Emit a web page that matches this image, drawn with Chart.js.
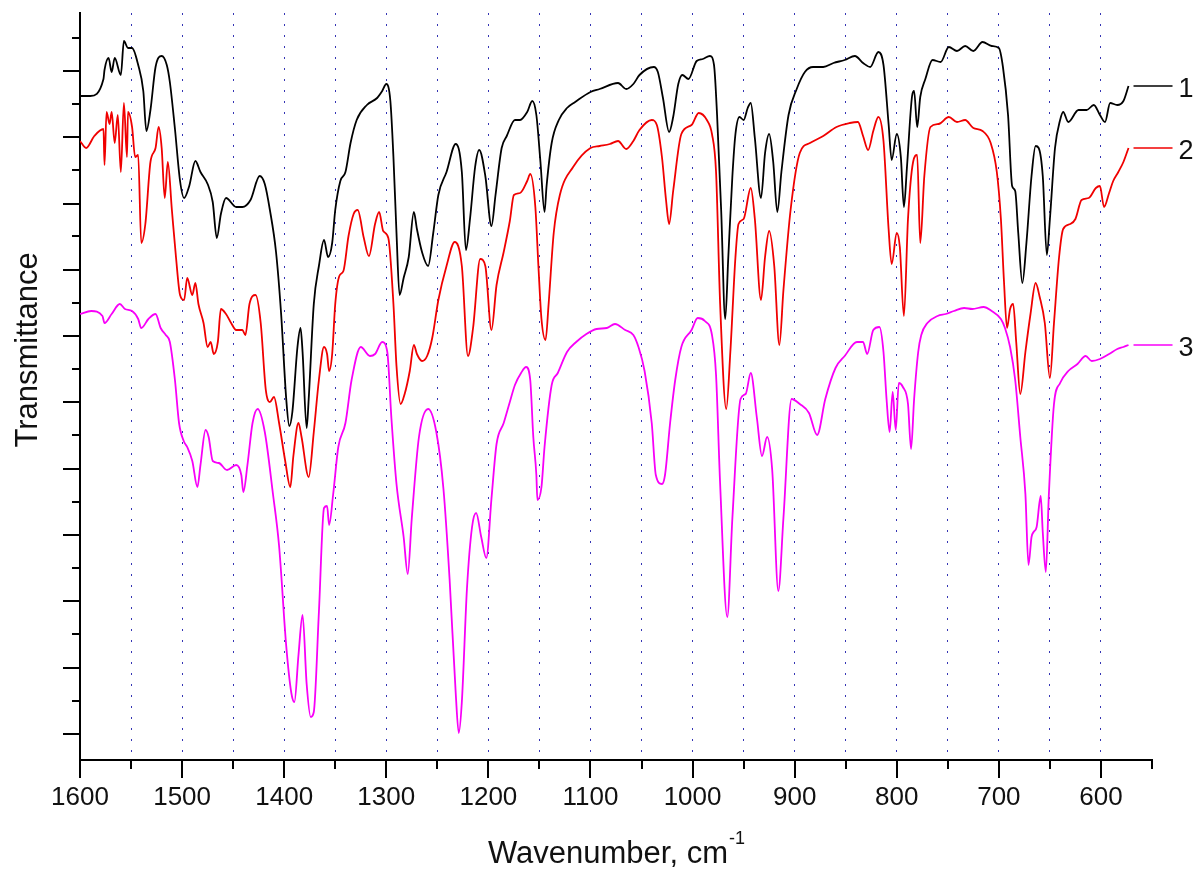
<!DOCTYPE html>
<html>
<head>
<meta charset="utf-8">
<title>IR spectra</title>
<script src="https://cdn.jsdelivr.net/npm/chart.js@4/dist/chart.umd.min.js"></script>
<style>
  html, body { margin: 0; padding: 0; background: #fff; }
  #wrap { width: 1203px; height: 869px; }
</style>
</head>
<body>
<div id="wrap"><canvas id="irChart" width="1203" height="869"></canvas></div>
<script>
// spectrum 1 (black)
const wn1 = [1600, 1590, 1577, 1576, 1572, 1569, 1566, 1560, 1557, 1553, 1549, 1543, 1538, 1535, 1531, 1526, 1520, 1515, 1512, 1507,
  1502, 1498, 1493, 1487, 1482, 1475, 1470, 1466, 1462, 1457, 1447, 1441, 1433, 1424, 1419, 1414, 1408, 1403, 1398, 1395,
  1392, 1387, 1384, 1382, 1378, 1376, 1371, 1366, 1361, 1357, 1353, 1350, 1345, 1340, 1335, 1329, 1319, 1309, 1304, 1300,
  1296, 1293, 1290, 1287, 1283, 1278, 1273, 1270, 1265, 1259, 1254, 1249, 1241, 1232, 1226, 1222, 1218, 1213, 1209, 1203,
  1197, 1193, 1187, 1182, 1174, 1169, 1162, 1157, 1153, 1149, 1145, 1143, 1138, 1131, 1123, 1115, 1100, 1091, 1073, 1065,
  1058, 1052, 1038, 1034, 1029, 1023, 1019, 1014, 1010, 1004, 996, 990, 983, 979, 976, 972, 968, 965, 961, 958,
  954, 950, 946, 943, 939, 933, 929, 925, 921, 917, 913, 906, 898, 890, 882, 872, 862, 851, 841, 833,
  826, 818, 813, 808, 805, 800, 796, 793, 790, 785, 783, 780, 777, 772, 765, 757, 749, 741, 733, 725,
  716, 707, 700, 696, 691, 687, 684, 681, 677, 673, 668, 664, 661, 657, 653, 650, 645, 640, 637, 632,
  622, 614, 607, 601, 596, 591, 584, 578, 573];
const t1 = [66.4, 66.4, 68.1, 69.0, 70.2, 68.8, 70.2, 68.5, 71.9, 71.2, 71.2, 69.5, 66.9, 62.9, 65.0, 69.3, 70.4, 69.5, 67.8, 63.1,
  57.9, 56.2, 57.4, 59.9, 58.8, 57.6, 55.8, 52.2, 54.6, 56.2, 55.3, 55.3, 56.0, 58.4, 57.6, 55.0, 50.8, 44.6, 36.1, 33.4,
  34.8, 41.3, 43.2, 40.8, 33.2, 36.1, 45.6, 49.4, 52.0, 50.3, 51.7, 55.0, 57.9, 58.8, 61.7, 64.0, 65.5, 66.2, 66.9, 67.6,
  65.9, 60.3, 52.7, 46.5, 48.2, 50.3, 54.8, 53.1, 50.8, 49.4, 52.7, 56.5, 58.8, 61.6, 58.8, 51.0, 54.1, 59.3, 61.0, 58.4,
  53.4, 56.5, 61.2, 62.4, 64.0, 64.0, 64.8, 65.9, 64.5, 59.8, 54.8, 57.4, 61.7, 64.0, 65.2, 65.8, 66.8, 67.1, 67.7, 67.1,
  67.6, 68.5, 69.3, 68.8, 66.2, 62.8, 64.3, 67.6, 68.5, 68.1, 69.9, 70.1, 70.4, 69.5, 64.5, 55.0, 44.1, 50.3, 58.4, 62.6,
  64.3, 64.0, 65.2, 65.7, 62.2, 56.2, 60.7, 62.6, 59.8, 54.8, 58.8, 64.5, 67.1, 68.8, 69.3, 69.3, 69.7, 70.0, 70.4, 69.7,
  69.3, 70.8, 69.5, 63.6, 60.0, 62.6, 60.3, 55.3, 59.3, 66.4, 66.9, 63.3, 66.3, 68.1, 70.0, 69.8, 71.3, 70.9, 71.4, 70.9,
  71.8, 71.4, 71.2, 69.3, 64.5, 57.4, 56.9, 52.7, 47.7, 51.7, 58.4, 61.4, 61.2, 58.4, 50.5, 54.1, 61.2, 64.0, 64.8, 63.8,
  65.0, 65.0, 65.5, 64.5, 63.8, 65.7, 65.5, 65.9, 67.4];

// spectrum 2 (red)
const wn2 = [1600, 1594, 1586, 1577, 1576, 1574, 1571, 1569, 1566, 1563, 1560, 1557, 1554, 1553, 1549, 1546, 1543, 1540, 1536, 1531,
  1526, 1523, 1520, 1517, 1514, 1510, 1506, 1502, 1498, 1495, 1490, 1487, 1484, 1479, 1475, 1472, 1469, 1465, 1462, 1457,
  1452, 1447, 1441, 1438, 1434, 1428, 1423, 1418, 1414, 1410, 1405, 1399, 1394, 1391, 1386, 1383, 1376, 1371, 1366, 1361,
  1358, 1356, 1353, 1350, 1346, 1342, 1337, 1332, 1328, 1322, 1317, 1311, 1307, 1303, 1298, 1293, 1290, 1286, 1282, 1277,
  1273, 1270, 1265, 1260, 1255, 1249, 1241, 1233, 1226, 1220, 1215, 1208, 1203, 1197, 1192, 1185, 1179, 1175, 1169, 1162,
  1159, 1154, 1151, 1148, 1144, 1141, 1136, 1130, 1117, 1100, 1091, 1081, 1073, 1065, 1058, 1052, 1040, 1035, 1030, 1026,
  1023, 1019, 1011, 1001, 994, 986, 981, 977, 973, 967, 963, 958, 955, 950, 943, 939, 933, 929, 925, 920,
  915, 911, 904, 895, 885, 872, 859, 846, 838, 833, 828, 823, 818, 813, 808, 805, 800, 797, 793, 789,
  784, 780, 777, 773, 767, 759, 749, 741, 733, 725, 716, 708, 702, 698, 695, 692, 689, 686, 683, 679,
  674, 669, 664, 660, 655, 650, 646, 641, 637, 630, 625, 619, 612, 605, 601, 597, 592, 588, 583, 578, 573];
const t2 = [61.9, 61.2, 62.4, 63.1, 59.5, 64.8, 63.6, 64.8, 61.7, 64.5, 58.8, 65.7, 60.3, 64.8, 63.3, 60.3, 60.5, 51.7, 53.6, 59.8,
  61.2, 63.3, 61.2, 56.2, 59.8, 55.0, 50.3, 46.5, 46.0, 48.2, 46.5, 47.7, 45.6, 43.7, 41.3, 41.8, 40.6, 41.8, 45.1, 44.6,
  43.7, 43.0, 43.0, 42.5, 45.6, 46.5, 43.7, 37.0, 35.8, 36.3, 33.7, 29.9, 27.3, 30.4, 33.7, 32.3, 28.3, 32.8, 38.0, 41.3,
  40.6, 38.9, 40.6, 45.6, 48.4, 48.9, 52.4, 54.6, 55.0, 52.2, 50.4, 53.6, 54.8, 52.9, 52.2, 45.6, 39.4, 35.6, 36.6, 38.9,
  41.5, 40.6, 39.9, 40.4, 42.2, 46.0, 49.4, 51.8, 49.4, 40.4, 43.2, 50.1, 49.4, 43.0, 47.5, 50.8, 53.9, 56.5, 56.7, 57.9,
  58.6, 55.3, 49.4, 44.1, 42.0, 45.6, 52.7, 56.5, 59.3, 61.2, 61.4, 61.6, 61.9, 61.1, 61.9, 63.0, 64.0, 63.5, 60.3, 56.0,
  53.6, 56.9, 62.6, 63.5, 64.7, 64.0, 62.6, 58.8, 45.6, 35.1, 40.8, 50.3, 53.6, 54.1, 57.2, 54.1, 46.0, 50.3, 52.9, 49.4,
  41.5, 47.0, 55.0, 60.7, 61.7, 62.4, 63.3, 63.7, 63.8, 62.4, 61.0, 62.9, 64.3, 61.9, 53.1, 49.6, 52.7, 51.3, 44.4, 54.1,
  59.8, 60.5, 51.7, 58.4, 63.3, 63.6, 64.3, 63.8, 64.0, 63.2, 62.9, 61.7, 58.8, 54.1, 47.9, 43.2, 45.1, 45.6, 41.8, 36.6,
  40.8, 44.6, 47.7, 46.3, 43.7, 38.2, 43.7, 50.3, 53.1, 53.6, 54.1, 56.0, 56.2, 57.2, 57.4, 55.3, 56.7, 57.9, 58.8, 59.8, 61.2];

// spectrum 3 (magenta)
const wn3 = [1600, 1589, 1578, 1576, 1569, 1561, 1556, 1549, 1543, 1540, 1533, 1526, 1521, 1516, 1512, 1507, 1503, 1498, 1495, 1490,
  1485, 1482, 1477, 1474, 1470, 1464, 1456, 1447, 1442, 1440, 1436, 1431, 1426, 1419, 1411, 1405, 1398, 1393, 1390, 1386,
  1382, 1378, 1374, 1371, 1366, 1361, 1358, 1356, 1352, 1347, 1340, 1334, 1325, 1316, 1311, 1304, 1299, 1295, 1290, 1283,
  1279, 1275, 1268, 1259, 1251, 1244, 1238, 1232, 1229, 1226, 1221, 1216, 1212, 1207, 1202, 1197, 1192, 1185, 1179, 1174,
  1168, 1163, 1159, 1156, 1153, 1152, 1148, 1145, 1138, 1132, 1123, 1114, 1104, 1094, 1084, 1076, 1066, 1058, 1053, 1047,
  1040, 1036, 1030, 1027, 1022, 1017, 1011, 1001, 995, 988, 981, 977, 973, 966, 961, 953, 948, 943, 937, 932,
  927, 922, 916, 911, 903, 895, 886, 878, 870, 860, 851, 839, 833, 829, 823, 817, 813, 810, 807, 804,
  801, 798, 794, 789, 786, 783, 779, 776, 770, 760, 752, 744, 734, 726, 715, 707, 698, 694, 689, 684,
  679, 674, 671, 668, 666, 663, 659, 657, 654, 651, 646, 640, 632, 623, 615, 609, 601, 592, 584, 578, 573];
const t3 = [44.6, 44.9, 44.4, 43.7, 44.6, 45.6, 45.1, 44.9, 44.1, 43.2, 44.1, 44.6, 43.2, 42.5, 41.8, 38.0, 33.7, 31.8, 31.3, 29.9,
  27.3, 29.5, 33.0, 32.3, 29.9, 29.7, 29.0, 29.5, 28.5, 26.8, 29.5, 33.7, 35.1, 32.8, 26.6, 21.4, 11.4, 6.7, 5.8, 10.5,
  14.5, 7.6, 4.3, 4.8, 14.8, 25.2, 25.4, 23.5, 26.6, 31.3, 33.7, 38.0, 41.3, 40.4, 40.6, 41.8, 40.8, 34.2, 27.6, 22.3,
  18.6, 24.2, 32.3, 35.1, 32.8, 27.1, 18.1, 6.7, 2.7, 5.8, 17.1, 23.3, 24.7, 22.3, 20.2, 26.1, 31.6, 33.7, 35.8, 37.5,
  38.7, 39.3, 38.0, 32.3, 28.5, 26.0, 27.3, 31.3, 37.5, 38.7, 40.8, 41.8, 42.6, 43.1, 43.2, 43.6, 43.0, 42.5, 41.3, 38.9,
  33.7, 28.5, 27.6, 28.5, 33.7, 38.0, 41.3, 43.0, 44.2, 43.9, 42.5, 38.5, 27.6, 14.3, 24.2, 36.1, 36.6, 38.7, 34.2, 30.4,
  32.3, 29.0, 16.9, 24.2, 36.1, 35.6, 34.7, 32.5, 36.1, 39.2, 40.4, 41.8, 41.8, 40.6, 43.0, 43.3, 40.8, 36.1, 32.8, 36.8,
  33.0, 37.7, 37.3, 35.6, 31.1, 36.1, 40.8, 42.5, 43.7, 44.4, 44.6, 44.9, 45.2, 45.1, 45.3, 44.9, 44.1, 43.2, 41.3, 38.0,
  32.3, 26.6, 19.5, 22.3, 22.8, 23.3, 26.4, 22.8, 18.8, 26.6, 35.6, 37.7, 38.9, 39.6, 40.4, 39.9, 40.1, 40.6, 41.1, 41.3, 41.5];

const seriesLabels = ['1', '2', '3'];
const seriesColors = ['#000000', '#f00000', '#f800f8'];

// axis ticks (y axis carries no numbers, only tick marks)
const xMin = 550, xMax = 1600;
const yMin = 0, yMax = 74.7;
const yMajorTicks = [2.6, 9.2, 15.9, 22.5, 29.1, 35.8, 42.4, 49.0, 55.6, 62.3, 68.9];
const yMinorTicks = [5.9, 12.6, 19.2, 25.8, 32.5, 39.1, 45.7, 52.4, 59.0, 65.6, 72.2];

function toPoints(xs, ys) {
    return xs.map((x, i) => ({ x: x, y: ys[i] }));
}

const FONT = '"Liberation Sans", Arial, sans-serif';

// tick marks of two lengths, axis titles and end-of-curve labels
const decorPlugin = {
    id: 'decor',
    afterDraw(chart) {
        const ctx = chart.ctx;
        const xs = chart.scales.x;
        const ys = chart.scales.y;
        const area = chart.chartArea;
        ctx.save();
        ctx.strokeStyle = '#000';
        ctx.lineWidth = 2;
        ctx.beginPath();
        xs.ticks.forEach(t => {
            const px = Math.round(xs.getPixelForValue(t.value));
            const len = t.value % 100 === 0 ? 18 : 9;
            ctx.moveTo(px, area.bottom);
            ctx.lineTo(px, area.bottom + len);
        });
        yMajorTicks.forEach(v => {
            const py = Math.round(ys.getPixelForValue(v));
            ctx.moveTo(area.left, py);
            ctx.lineTo(area.left - 17, py);
        });
        yMinorTicks.forEach(v => {
            const py = Math.round(ys.getPixelForValue(v));
            ctx.moveTo(area.left, py);
            ctx.lineTo(area.left - 8, py);
        });
        ctx.stroke();

        // labels at the right end of each curve
        ctx.lineWidth = 1.6;
        ctx.font = '27px ' + FONT;
        ctx.textAlign = 'left';
        ctx.textBaseline = 'middle';
        chart.data.datasets.forEach((ds, i) => {
            const pts = chart.getDatasetMeta(i).data;
            const last = pts[pts.length - 1];
            ctx.strokeStyle = seriesColors[i];
            ctx.beginPath();
            ctx.moveTo(last.x + 5, last.y);
            ctx.lineTo(last.x + 44, last.y);
            ctx.stroke();
            ctx.fillStyle = '#111';
            ctx.fillText(seriesLabels[i], last.x + 50, last.y + 4);
        });

        // x axis title with superscript
        const main = 'Wavenumber, cm';
        const sup = '-1';
        ctx.font = '31px ' + FONT;
        const wMain = ctx.measureText(main).width;
        ctx.font = '18px ' + FONT;
        const wSup = ctx.measureText(sup).width;
        const cx = (area.left + area.right) / 2;
        const startX = cx - (wMain + wSup) / 2;
        ctx.fillStyle = '#111';
        ctx.textBaseline = 'alphabetic';
        ctx.font = '31px ' + FONT;
        ctx.fillText(main, startX, 863);
        ctx.font = '18px ' + FONT;
        ctx.fillText(sup, startX + wMain + 1, 844);

        // y axis title
        ctx.translate(28, 350);
        ctx.rotate(-Math.PI / 2);
        ctx.font = '31px ' + FONT;
        ctx.textAlign = 'center';
        ctx.textBaseline = 'middle';
        ctx.fillText('Transmittance', 0, 0);
        ctx.restore();
    }
};

const datasets = [toPoints(wn1, t1), toPoints(wn2, t2), toPoints(wn3, t3)].map((pts, i) => ({
    label: seriesLabels[i],
    data: pts,
    borderColor: seriesColors[i],
    borderWidth: 1.8,
    pointRadius: 0,
    fill: false,
    cubicInterpolationMode: 'monotone'
}));

new Chart(document.getElementById('irChart').getContext('2d'), {
    type: 'line',
    data: { datasets: datasets },
    options: {
        responsive: false,
        animation: false,
        layout: { padding: { left: 80, top: 13, right: 51, bottom: 0 } },
        plugins: { legend: { display: false }, tooltip: { enabled: false } },
        scales: {
            x: {
                type: 'linear',
                reverse: true,
                min: xMin,
                max: xMax,
                afterFit: s => { s.height = 109; },
                ticks: {
                    stepSize: 50,
                    autoSkip: false,
                    maxRotation: 0,
                    padding: 22,
                    color: '#111',
                    font: { family: FONT, size: 26 },
                    callback: v => (v % 100 === 0 ? String(v) : '')
                },
                grid: {
                    drawTicks: false,
                    lineWidth: 1,
                    color: c => (c.tick && (c.tick.value === xMin || c.tick.value === xMax)) ? 'rgba(0,0,0,0)' : '#3434b4'
                },
                border: { display: true, color: '#000', width: 2, dash: [2, 9] }
            },
            y: {
                min: yMin,
                max: yMax,
                afterFit: s => { s.width = 0; },
                ticks: { display: false },
                grid: { display: false, drawTicks: false },
                border: { display: true, color: '#000', width: 2 }
            }
        }
    },
    plugins: [decorPlugin]
});
</script>
</body>
</html>
